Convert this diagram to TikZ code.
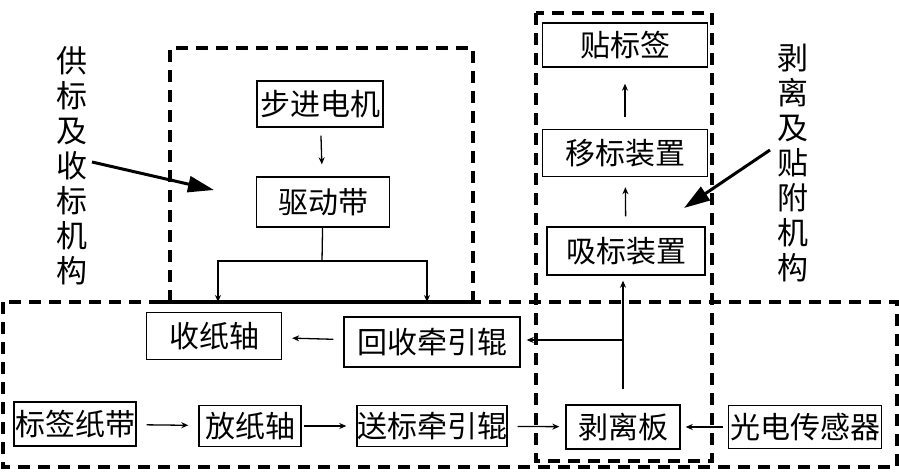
\documentclass[tikz,border=0pt]{standalone}
\usepackage{fontspec}
\setmainfont{Noto Sans CJK SC}
\usetikzlibrary{arrows.meta, positioning}

\tikzset{
	kuang/.style={draw, line width=1.4pt, inner sep=0pt, font=\fontsize{30}{32}\selectfont},
	jt/.style={-{Stealth[length=7pt,width=6pt]}, line width=1.3pt, shorten <=10pt, shorten >=10pt},
	xukuang/.style={dash pattern=on 12pt off 8pt, line width=3.4pt},
	shuzi/.style={align=center, inner sep=0pt, font=\fontsize{31}{35}\selectfont},
	dajt/.style={-{Triangle[length=26pt,width=16pt]}, line width=3pt},
}

\begin{document}
\begin{tikzpicture}[x=1pt,y=-1pt]
		\useasboundingbox (0,0) rectangle (899,474);
		
		% 虚线框
		\draw[xukuang] (170,302) -- (170,48) -- (473,48) -- (473,302);
		\draw[xukuang] (3,302) rectangle (897,467);
		\draw[xukuang] (536,13) rectangle (712,461);
		\draw[line width=3.4pt] (160,302) -- (473,302);
		
		% 供标及收标机构
		\node[kuang, minimum width=126pt, minimum height=46pt] (bujin) at (320,104) {步进电机};
		\node[kuang, minimum width=133pt, minimum height=50pt] (qudong) at (323,202) {驱动带};
		\node[kuang, minimum width=135pt, minimum height=47pt] (shouzhi) at (214,336) {收纸轴};
		\node[kuang, minimum width=176pt, minimum height=50pt] (huishou) at (432,342) {回收牵引辊};
		\node[kuang, minimum width=122pt, minimum height=44pt] (zhidai) at (75,424) {标签纸带};
		\node[kuang, minimum width=102pt, minimum height=41pt] (fangzhi) at (250,426) {放纸轴};
		\node[kuang, minimum width=147pt, minimum height=41pt] (songbiao) at (432,426) {送标牵引辊};
		
		% 剥离及贴附机构
		\node[kuang, minimum width=114pt, minimum height=44pt] (boli) at (623,427) {剥离板};
		\node[kuang, minimum width=153pt, minimum height=43pt] (guangdian) at (805,427) {光电传感器};
		\node[kuang, minimum width=158pt, minimum height=48pt] (xibiao) at (626,251) {吸标装置};
		\node[kuang, minimum width=165pt, minimum height=47pt] (yibiao) at (625,153) {移标装置};
		\node[kuang, minimum width=165pt, minimum height=44pt] (tiebiao) at (625,45) {贴标签};
		
		% 说明文字
		\node[shuzi] (zuoming) at (72,166) {供\\标\\及\\收\\标\\机\\构};
		\node[shuzi] (youming) at (793,163) {剥\\离\\及\\贴\\附\\机\\构};
		\coordinate (zuoqi) at (92,162);
		\coordinate (zuozhi) at (214,190);
		\coordinate (youqi) at (770,150);
		\coordinate (youzhi) at (684,208);
		\draw[dajt] (zuoqi) -- (zuozhi);
		\draw[dajt] (youqi) -- (youzhi);
		
		% 连线
		\draw[jt, shorten <=8pt, shorten >=12pt] (bujin) -- (qudong);
		\coordinate (fenzhi) at (322,261);
		\coordinate (zuoduan) at (218,302);
		\coordinate (youduan) at (427,302);
		\draw[line width=1.3pt] (qudong) -- (fenzhi);
		\draw[jt, shorten <=0pt, shorten >=0pt] (fenzhi) -| (zuoduan);
		\draw[jt, shorten <=0pt, shorten >=0pt] (fenzhi) -| (youduan);
		
		\draw[jt] (huishou) -- (shouzhi);
		\draw[jt] (zhidai) -- (fangzhi);
		\draw[jt, shorten <=2pt] (fangzhi) -- (songbiao);
		\draw[jt, shorten >=6pt] (songbiao) -- (boli);
		\draw[jt, shorten <=5pt, shorten >=5pt] (guangdian) -- (boli);
		
		\coordinate (jiaodian) at (624,340);
		\draw[jt, shorten <=15pt, shorten >=5pt] (boli.north) -- (boli.north |- xibiao.south);
		\draw[jt, shorten <=0pt, shorten >=6pt] (jiaodian) -- (jiaodian -| huishou.east);
		\draw[jt] (xibiao) -- (yibiao);
		\draw[jt, shorten <=12pt, shorten >=16pt] (yibiao) -- (tiebiao);
	\end{tikzpicture}
\end{document}
